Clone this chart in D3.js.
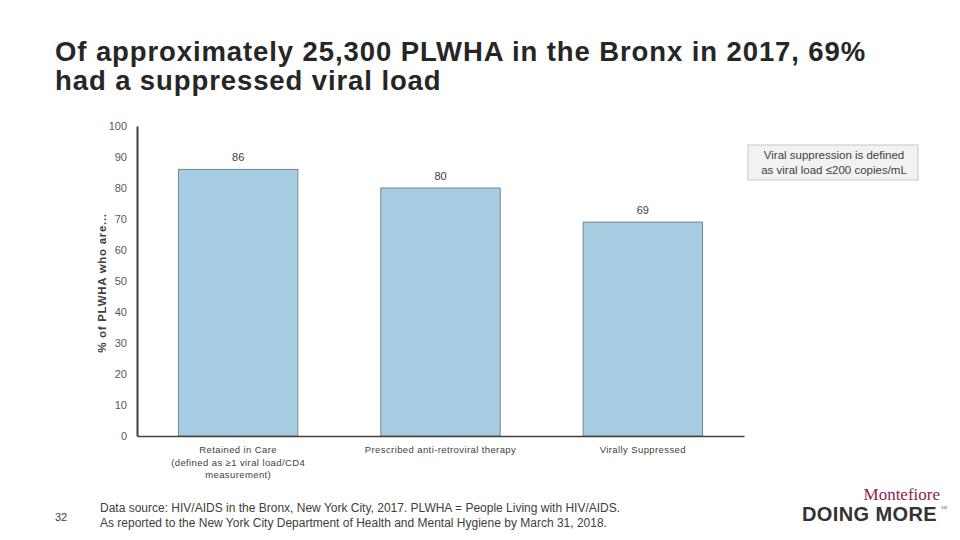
<!DOCTYPE html>
<html lang="en">
<head>
  <meta charset="UTF-8">
  <title>PLWHA in the Bronx 2017</title>
  <script src="https://d3js.org/d3.v7.min.js"></script>
  <style>
    body { margin: 0; background: #fff; }
    svg { font-family: "Liberation Sans", Arial, sans-serif; }
  </style>
</head>
<body>
  <div id="chart"></div>
  <script>
    // data
    const categories = ["Retained in Care", "Prescribed anti-retroviral therapy", "Virally Suppressed"];
    const categoryLines = [
      ["Retained in Care", "(defined as \u22651 viral load/CD4", "measurement)"],
      ["Prescribed anti-retroviral therapy"],
      ["Virally Suppressed"]
    ];
    const values = [86, 80, 69];
    const yTicks = [0, 10, 20, 30, 40, 50, 60, 70, 80, 90, 100];

    const width = 960, height = 540;
    const svg = d3.select("#chart").append("svg")
      .attr("width", width)
      .attr("height", height);

    // title
    const title = svg.append("text")
      .attr("x", 55).attr("y", 61)
      .attr("font-size", 27.5).attr("font-weight", "bold")
      .attr("letter-spacing", 0.9)
      .attr("fill", "#262626");
    title.append("tspan").attr("x", 55).text("Of approximately 25,300 PLWHA in the Bronx in 2017, 69%");
    title.append("tspan").attr("x", 55).attr("dy", 29).text("had a suppressed viral load");

    const x = d3.scaleBand()
      .domain(categories)
      .range([137, 744])
      .paddingInner(0.41)
      .paddingOuter(0.205);
    const y = d3.scaleLinear().domain([0, 100]).range([436, 126]);

    // bars
    svg.append("g").selectAll("rect")
      .data(values)
      .join("rect")
      .attr("x", (d, i) => x(categories[i]))
      .attr("y", d => y(d))
      .attr("width", x.bandwidth())
      .attr("height", d => y(0) - y(d))
      .attr("fill", "#a6cde1")
      .attr("stroke", "#6f8594")
      .attr("stroke-width", 1);

    svg.append("g").selectAll("text")
      .data(values)
      .join("text")
      .attr("x", (d, i) => x(categories[i]) + x.bandwidth() / 2)
      .attr("y", d => y(d) - 8)
      .attr("text-anchor", "middle")
      .attr("font-size", 11)
      .attr("fill", "#404040")
      .text(d => d);

    // y axis
    const yAxis = svg.append("g")
      .attr("transform", "translate(137,0)")
      .call(d3.axisLeft(y).tickValues(yTicks).tickSize(0).tickPadding(10));
    yAxis.attr("font-family", null);
    yAxis.select(".domain").attr("stroke", "#404040").attr("stroke-width", 2);
    yAxis.selectAll("text")
      .attr("font-size", 11)
      .attr("fill", "#595959");

    // x axis
    const xAxis = svg.append("g")
      .attr("transform", "translate(0,436)")
      .call(d3.axisBottom(x).tickSize(0).tickFormat(""));
    xAxis.select(".domain").attr("stroke", "#404040").attr("stroke-width", 1.5);

    const catLabels = svg.append("g").selectAll("text")
      .data(categories)
      .join("text")
      .attr("x", d => x(d) + x.bandwidth() / 2)
      .attr("y", 453)
      .attr("text-anchor", "middle")
      .attr("font-size", 9.5)
      .attr("letter-spacing", 0.4)
      .attr("fill", "#404040");
    catLabels.each(function(d, i) {
      const t = d3.select(this);
      categoryLines[i].forEach((line, j) => {
        t.append("tspan")
          .attr("x", x(d) + x.bandwidth() / 2)
          .attr("dy", j === 0 ? 0 : 12.5)
          .text(line);
      });
    });

    // y axis title
    svg.append("text")
      .attr("transform", "translate(106,283) rotate(-90)")
      .attr("text-anchor", "middle")
      .attr("font-size", 11.5)
      .attr("font-weight", "bold")
      .attr("letter-spacing", 0.7)
      .attr("fill", "#404040")
      .text("% of PLWHA who are...");

    // note box
    svg.append("rect")
      .attr("x", 748).attr("y", 145)
      .attr("width", 170).attr("height", 35)
      .attr("fill", "#f2f2f2")
      .attr("stroke", "#c8c8c8");
    const note = svg.append("text")
      .attr("text-anchor", "middle")
      .attr("font-size", 11.5)
      .attr("fill", "#404040");
    note.append("tspan").attr("x", 834).attr("y", 159).text("Viral suppression is defined");
    note.append("tspan").attr("x", 834).attr("y", 174).text("as viral load \u2264200 copies/mL");

    // footer
    svg.append("text")
      .attr("x", 55).attr("y", 521)
      .attr("font-size", 11).attr("fill", "#404040")
      .text("32");
    const src = svg.append("text")
      .attr("font-size", 12).attr("fill", "#404040");
    src.append("tspan").attr("x", 100).attr("y", 512)
      .text("Data source: HIV/AIDS in the Bronx, New York City, 2017. PLWHA = People Living with HIV/AIDS.");
    src.append("tspan").attr("x", 100).attr("y", 527)
      .text("As reported to the New York City Department of Health and Mental Hygiene by March 31, 2018.");

    // logo
    svg.append("text")
      .attr("x", 940).attr("y", 500)
      .attr("text-anchor", "end")
      .attr("font-size", 17)
      .style("font-family", "'Liberation Serif', 'DejaVu Serif', serif")
      .attr("fill", "#8c1d4e")
      .text("Montefiore");
    svg.append("text")
      .attr("x", 937).attr("y", 521)
      .attr("text-anchor", "end")
      .attr("font-size", 20)
      .attr("font-weight", "bold")
      .attr("letter-spacing", 0.4)
      .attr("fill", "#333")
      .text("DOING MORE");
    svg.append("text")
      .attr("x", 941).attr("y", 509)
      .attr("font-size", 4)
      .attr("fill", "#666")
      .text("SM");
  </script>
</body>
</html>
